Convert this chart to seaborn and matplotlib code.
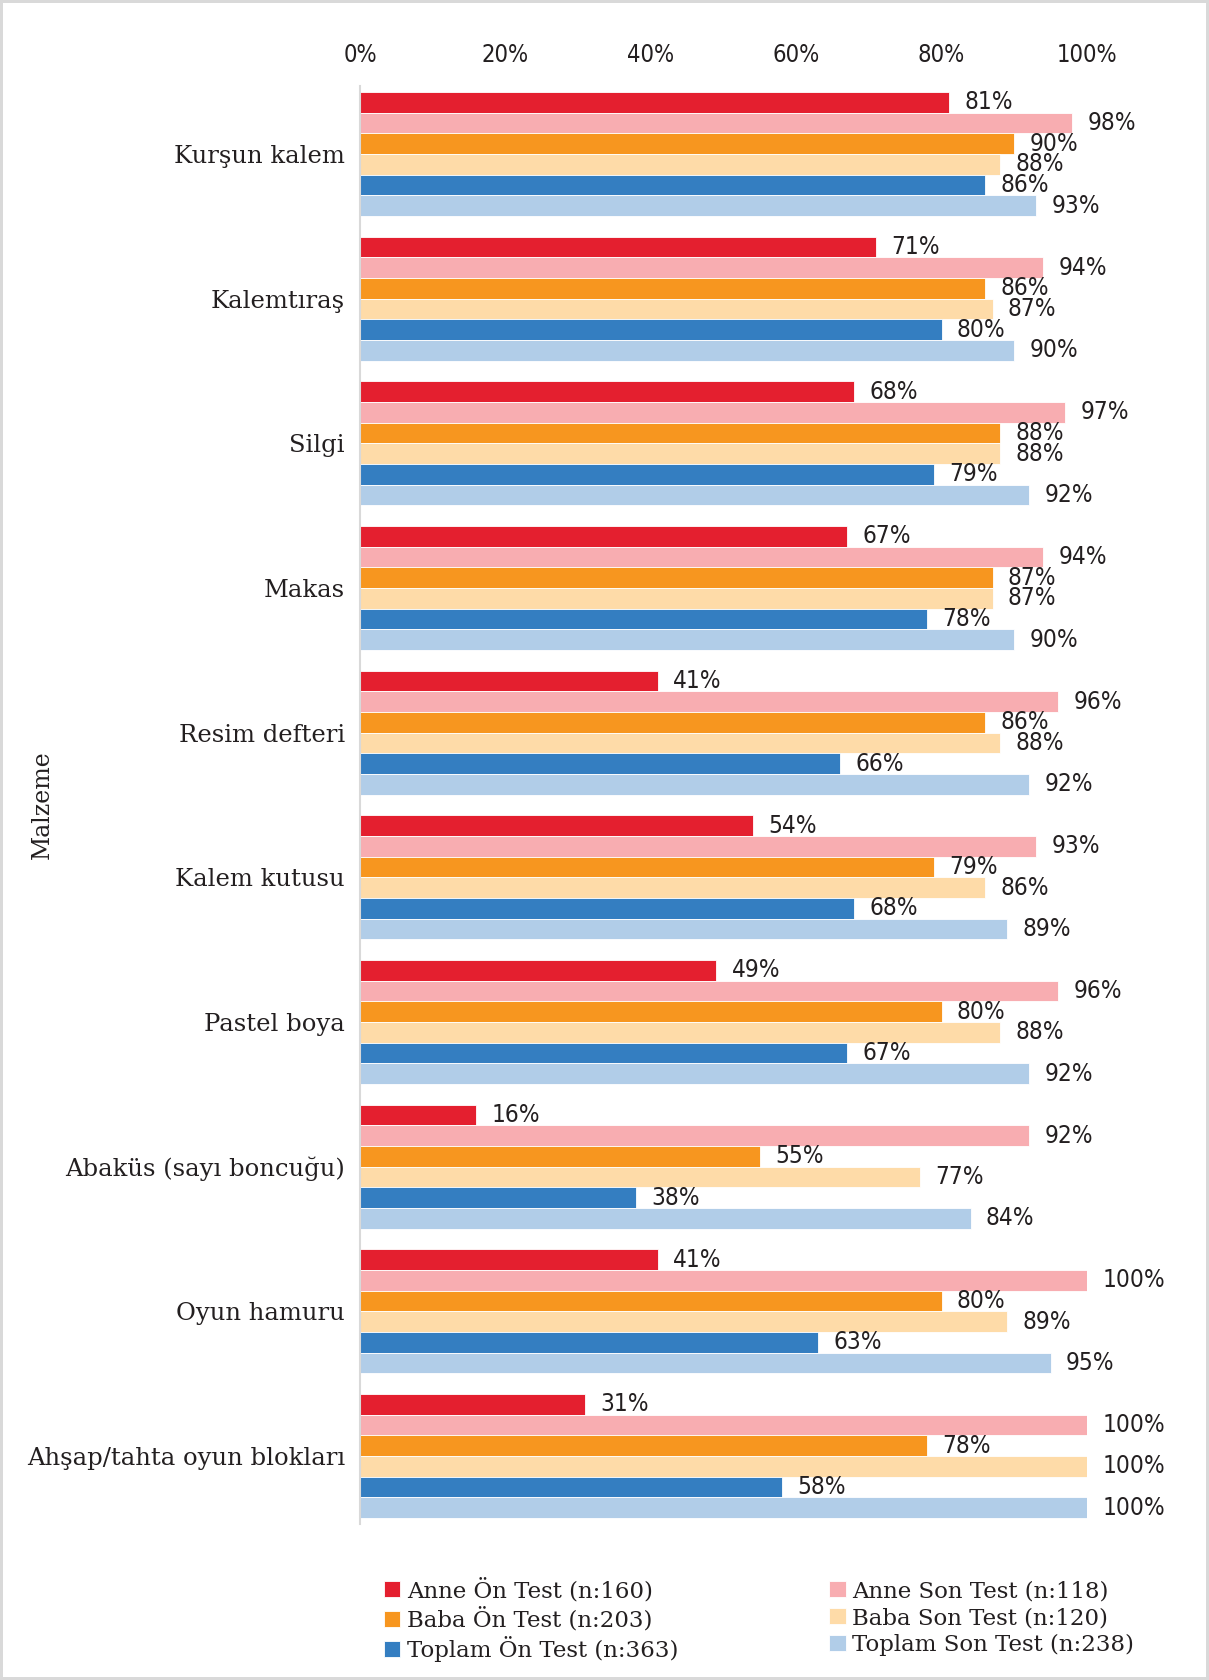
import pandas as pd
import numpy as np
import seaborn as sns
import matplotlib.pyplot as plt
from matplotlib.ticker import PercentFormatter

malzeme = ['Kurşun kalem', 'Kalemtıraş', 'Silgi', 'Makas', 'Resim defteri',
           'Kalem kutusu', 'Pastel boya', 'Abaküs (sayı boncuğu)', 'Oyun hamuru',
           'Ahşap/tahta oyun blokları']

gruplar = ['Anne Ön Test (n:160)', 'Anne Son Test (n:118)', 'Baba Ön Test (n:203)',
           'Baba Son Test (n:120)', 'Toplam Ön Test (n:363)', 'Toplam Son Test (n:238)']

anne_on = [81, 71, 68, 67, 41, 54, 49, 16, 41, 31]
anne_son = [98, 94, 97, 94, 96, 93, 96, 92, 100, 100]
baba_on = [90, 86, 88, 87, 86, 79, 80, 55, 80, 78]
baba_son = [88, 87, 88, 87, 88, 86, 88, 77, 89, 100]
toplam_on = [86, 80, 79, 78, 66, 68, 67, 38, 63, 58]
toplam_son = [93, 90, 92, 90, 92, 89, 92, 84, 95, 100]

renkler = ['#E41F2F', '#F8ADB1', '#F7961F', '#FEDBA8', '#347EC1', '#B1CDE8']

seriler = [anne_on, anne_son, baba_on, baba_son, toplam_on, toplam_son]
rows = []
for g, vals in zip(gruplar, seriler):
    for m, v in zip(malzeme, vals):
        rows.append({'malzeme': m, 'grup': g, 'deger': v})
df = pd.DataFrame(rows)

sns.set_style('white')
plt.rcParams['font.family'] = ['DejaVu Serif']
metin = '#231F20'

fig = plt.figure(figsize=(12.09, 16.8), dpi=100)
fig.patch.set_edgecolor('#D9D9D9')
fig.patch.set_linewidth(3)
ax = fig.add_axes([0.2978, 0.0929, 0.6013, 0.8559])

sns.barplot(data=df, x='deger', y='malzeme', hue='grup', order=malzeme,
            hue_order=gruplar, palette=renkler, width=0.857, orient='h',
            saturation=1, edgecolor='white', linewidth=0.6, ax=ax)

# yüzde etiketleri
for cont, vals in zip(ax.containers, seriler):
    ax.bar_label(cont, labels=[f'{v}%' for v in vals], padding=11,
                 fontsize=17.5, color=metin, family='DejaVu Sans',
                 fontstretch='condensed')

ax.set_xlim(0, 100)
ax.set_ylim(9.47, -0.47)
ax.xaxis.tick_top()
ax.xaxis.set_major_formatter(PercentFormatter(xmax=100, decimals=0))
ax.set_xticks([0, 20, 40, 60, 80, 100])
ax.tick_params(axis='x', length=0, pad=13.5, labelsize=17, labelcolor=metin)
for t in ax.get_xticklabels():
    t.set_family('DejaVu Sans')
    t.set_fontstretch('condensed')
ax.tick_params(axis='y', length=0, pad=11, labelsize=17.5, labelcolor=metin)
ax.set_xlabel('')
ax.set_ylabel('Malzeme', fontsize=17, color=metin)
ax.yaxis.set_label_coords(-0.421, 0.5)
for s in ['top', 'right', 'bottom']:
    ax.spines[s].set_visible(False)
ax.spines['left'].set_color('#D9D9D9')
ax.spines['left'].set_linewidth(1.5)

handles, labels = ax.get_legend_handles_labels()
ax.get_legend().remove()
sira = [0, 2, 4, 1, 3, 5]
fig.legend([handles[i] for i in sira], [labels[i] for i in sira],
           loc='upper left', bbox_to_anchor=(0.3005, 0.073), ncol=2,
           frameon=False, fontsize=16.5, handlelength=0.7, handleheight=0.7,
           handletextpad=0.3, labelspacing=0.2, columnspacing=6.6,
           labelcolor=metin)

fig.savefig('out.png', dpi=100)
